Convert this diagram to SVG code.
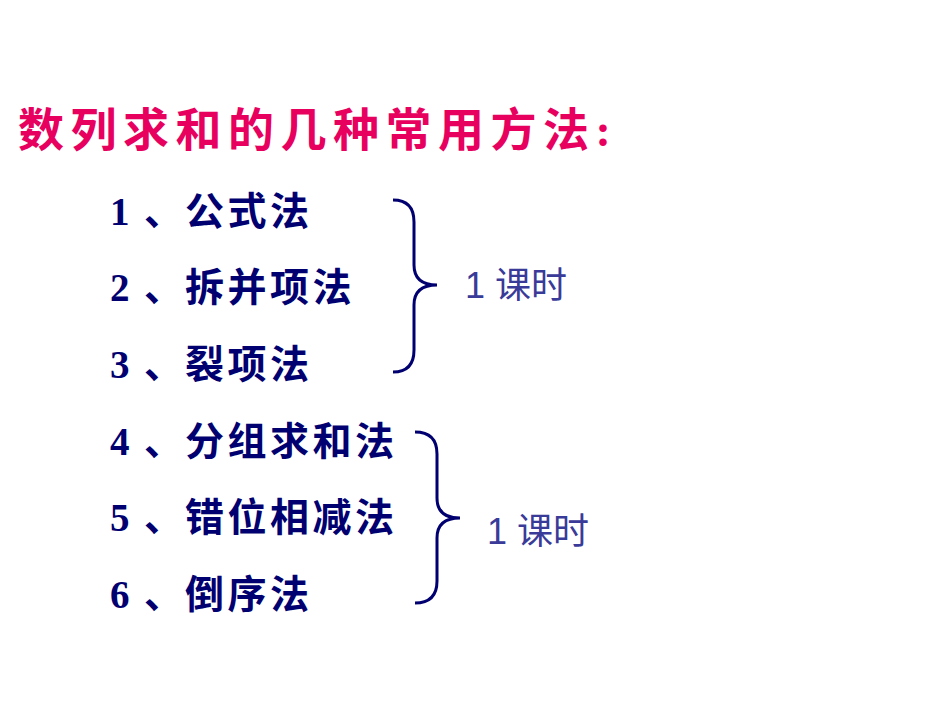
<svg xmlns="http://www.w3.org/2000/svg" width="950" height="713" viewBox="0 0 950 713">
<style>
.t{font-family:"Liberation Serif","Noto Sans CJK SC",serif;font-weight:bold;font-size:39px;fill:#000070}
.c{letter-spacing:3.5px}
.h{font-family:"Liberation Serif","Noto Sans CJK SC",serif;font-weight:bold;font-size:46px;fill:#E8005F;letter-spacing:6.5px}
.k{font-family:"Liberation Sans","Noto Sans CJK SC",sans-serif;font-size:36px;fill:#3A3A99}
.b{fill:none;stroke:#000070;stroke-width:3}
</style>
<rect width="950" height="713" fill="#fff"/>
<g id="title"><text class="h" x="18" y="146">数列求和的几种常用方法:</text></g>
<g id="items">
<text class="t" x="110" y="225">1<tspan x="144">、</tspan><tspan class="c" x="185">公式法</tspan></text>
<text class="t" x="110" y="301">2<tspan x="144">、</tspan><tspan class="c" x="185">拆并项法</tspan></text>
<text class="t" x="110" y="378">3<tspan x="144">、</tspan><tspan class="c" x="185">裂项法</tspan></text>
<text class="t" x="110" y="455">4<tspan x="144">、</tspan><tspan class="c" x="185">分组求和法</tspan></text>
<text class="t" x="110" y="531">5<tspan x="144">、</tspan><tspan class="c" x="185">错位相减法</tspan></text>
<text class="t" x="110" y="608">6<tspan x="144">、</tspan><tspan class="c" x="185">倒序法</tspan></text>
</g>
<g id="connectors">
<path class="b" d="M393,200 Q414,200 414,222 L414,265 Q414,285 437,285 Q414,285 414,305 L414,350 Q414,372 393,372"/>
<path class="b" d="M415,432 Q437,432 437,454 L437,498 Q437,518 460,518 Q437,518 437,538 L437,581 Q437,603 415,603"/>
</g>
<g id="labels">
<text class="k" x="465" y="298">1 课时</text>
<text class="k" x="487" y="544">1 课时</text>
</g>
</svg>
